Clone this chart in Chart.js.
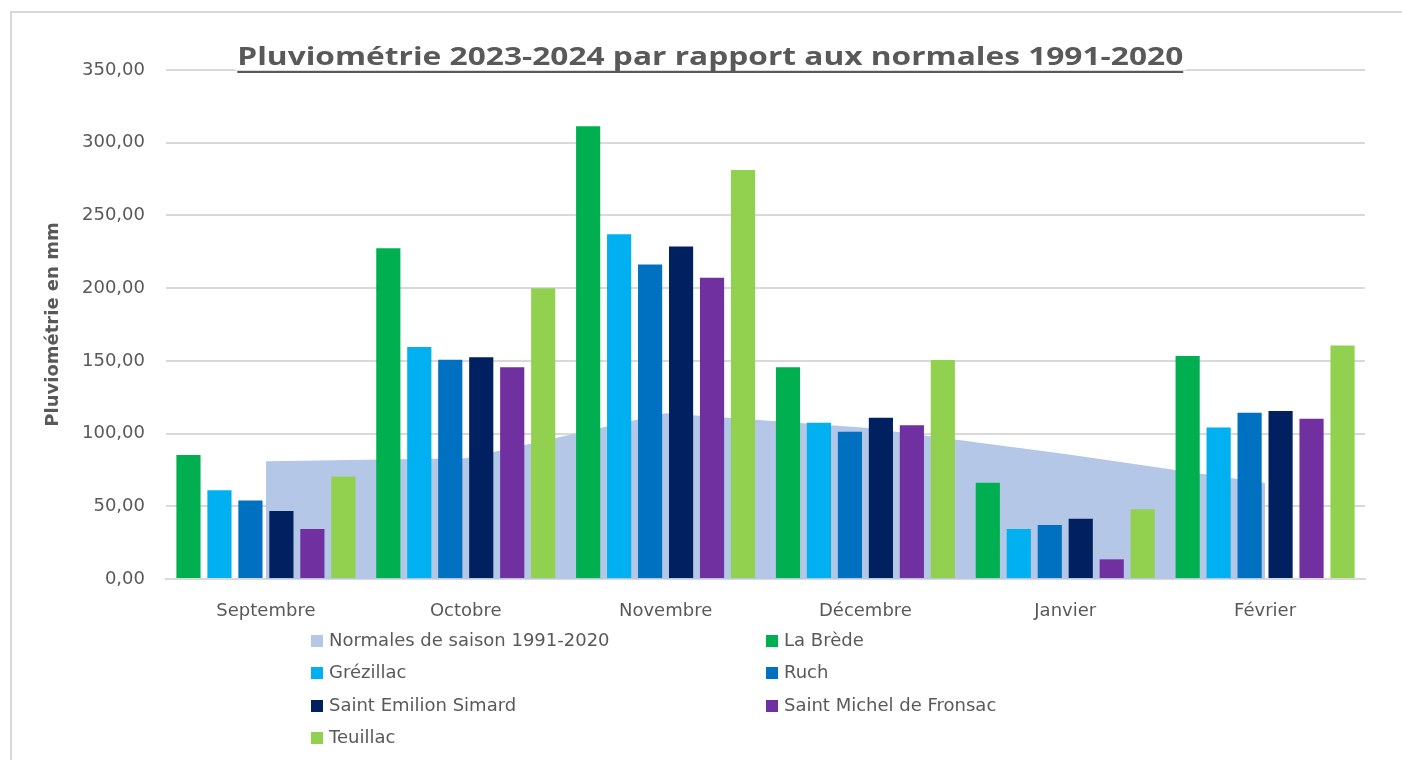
<!DOCTYPE html>
<html lang="fr">
<head>
<meta charset="utf-8">
<title>Pluviométrie 2023-2024</title>
<script src="https://cdn.jsdelivr.net/npm/chart.js@4.4.1/dist/chart.umd.min.js"></script>
<style>
  html, body { margin: 0; padding: 0; background: #fff; overflow: hidden; }
  #wrap { position: relative; width: 1402px; height: 760px; }
  #frame { position: absolute; left: 10px; top: 11px; right: -5px; bottom: -5px;
           border-left: 2px solid #d9d9d9; border-top: 2px solid #d9d9d9; }
  #myChart { position: absolute; left: 0; top: 0; }
  #title { position: absolute; left: 0; width: 1402px; top: 40px; text-align: center; }
  #title span { display: inline-block; background: #fff; color: #595959; padding: 0 2px;
                font: bold 25px "Open Sans", sans-serif; white-space: nowrap; line-height: 30px;
                text-decoration: underline; text-decoration-thickness: 2px; text-underline-offset: 6px;
                transform-origin: center; }
  .leg { position: absolute; font: 18px "DejaVu Sans", sans-serif; color: #595959; white-space: nowrap;
         line-height: 20px; }
  .leg i { display: inline-block; width: 12px; height: 12px; margin-right: 6px; vertical-align: -1px; }
</style>
</head>
<body>
<div id="wrap">
  <div id="frame"></div>
  <canvas id="myChart" width="1402" height="760"></canvas>
  <div id="title"><span id="titleText">Pluviométrie 2023-2024 par rapport aux normales 1991-2020</span></div>
  <div id="legend"></div>
</div>
<script>
const months = ['Septembre', 'Octobre', 'Novembre', 'Décembre', 'Janvier', 'Février']

// normales de saison (aire en fond)
const normales = [81, 83, 114, 104, 86, 66]

// stations, en mm
const laBrede = [85.3, 227.4, 311.3, 145.6, 66.2, 153.4]
const grezillac = [61.0, 159.5, 237.0, 107.5, 34.4, 104.1]
const ruch = [53.9, 150.8, 216.2, 101.3, 37.1, 114.4]
const saintEmilion = [46.8, 152.5, 228.6, 110.9, 41.5, 115.5]
const saintMichel = [34.4, 145.6, 207.2, 105.7, 13.5, 110.2]
const teuillac = [70.4, 200.0, 281.3, 150.6, 47.9, 160.5]

const yMin = 0
const yMax = 350
const yStep = 50

const series = [
  { label: 'Normales de saison 1991-2020', data: normales, color: '#b4c7e7', area: true },
  { label: 'La Brède', data: laBrede, color: '#00b050' },
  { label: 'Grézillac', data: grezillac, color: '#00b0f0' },
  { label: 'Ruch', data: ruch, color: '#0070c0' },
  { label: 'Saint Emilion Simard', data: saintEmilion, color: '#002060' },
  { label: 'Saint Michel de Fronsac', data: saintMichel, color: '#7030a0' },
  { label: 'Teuillac', data: teuillac, color: '#92d050' }
]

const fontTxt = 'DejaVu Sans'
const grey = '#595959'

const datasets = series.map((s) => {
  if (s.area) {
    return {
      type: 'line',
      label: s.label,
      data: s.data,
      backgroundColor: s.color,
      borderColor: s.color,
      borderWidth: 0,
      pointRadius: 0,
      tension: 0,
      fill: 'origin',
      order: 10
    }
  }
  return {
    type: 'bar',
    label: s.label,
    data: s.data,
    backgroundColor: s.color,
    categoryPercentage: 0.93,
    barPercentage: 0.78,
    order: 1
  }
})

const ctx = document.getElementById('myChart')

new Chart(ctx, {
  data: { labels: months, datasets },
  options: {
    responsive: false,
    animation: false,
    layout: { padding: { top: 70, right: 37, left: 0, bottom: 0 } },
    scales: {
      x: {
        grid: { display: false, drawTicks: false },
        border: { display: true, color: '#d9d9d9', width: 2 },
        ticks: { color: grey, font: { family: fontTxt, size: 18 }, padding: 22, maxRotation: 0 },
        afterFit: (s) => { s.height = 181 }
      },
      y: {
        min: yMin,
        max: yMax,
        grid: { color: '#d9d9d9', lineWidth: 2, drawTicks: false },
        border: { display: false },
        ticks: {
          stepSize: yStep,
          color: grey,
          padding: 21,
          font: { family: fontTxt, size: 18 },
          callback: (v) => v.toFixed(2).replace('.', ',')
        },
        title: {
          display: true,
          text: 'Pluviométrie en mm',
          color: grey,
          font: { family: fontTxt, size: 18, weight: 'bold' },
          padding: { top: 43, bottom: 0 }
        },
        afterFit: (s) => { s.width = 166 }
      }
    },
    plugins: {
      legend: { display: false },
      tooltip: { enabled: false }
    }
  }
})

// legende en 2 colonnes (comme dans Excel)
const legend = document.getElementById('legend')
const colX = [311, 766]
const rowY = [640, 672, 705, 737]
series.forEach((s, i) => {
  const d = document.createElement('div')
  d.className = 'leg'
  d.style.left = colX[i % 2] + 'px'
  d.style.top = (rowY[Math.floor(i / 2)] - 10) + 'px'
  d.innerHTML = '<i style="background:' + s.color + '"></i>' + s.label
  legend.appendChild(d)
})

// le titre fait ~947px de large dans l'original, centre vers x=710
const t = document.getElementById('titleText')
const w = t.getBoundingClientRect().width
t.style.transform = 'translateX(9px) scaleX(' + (951 / w) + ')'
</script>
</body>
</html>
